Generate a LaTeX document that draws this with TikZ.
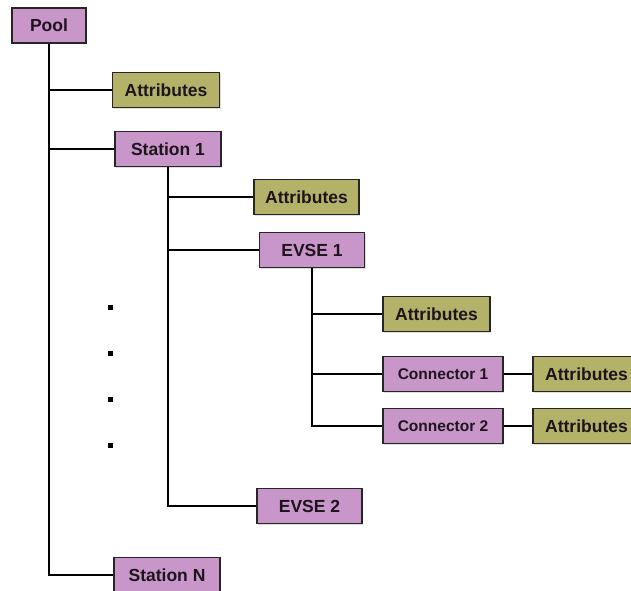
\documentclass[tikz,border=0pt]{standalone}
\usepackage{fontspec}
\setmainfont{Liberation Sans}
\usetikzlibrary{positioning,shadows}
\definecolor{BoxPurple}{RGB}{200,150,200}
\definecolor{BoxOlive}{RGB}{180,178,104}
\definecolor{TextDark}{RGB}{30,20,30}
\begin{document}
\begin{tikzpicture}[x=1pt, y=-1pt,
	node/.style={draw=black!85, line width=1.1pt, minimum height=35pt, inner sep=0pt,
		font=\fontsize{17.5}{20}\selectfont\bfseries, text=TextDark,
		drop shadow={shadow xshift=1.2pt, shadow yshift=-1.2pt, opacity=0.25}},
	itembox/.style={node, fill=BoxPurple, minimum width=106pt},
	attrbox/.style={node, fill=BoxOlive, minimum width=107pt},
	conbox/.style={itembox, minimum width=120pt, font=\fontsize{15.5}{18}\selectfont\bfseries},
	link/.style={line width=2pt, black}]
		\useasboundingbox (0,0) rectangle (631,590);
		\clip (0,0) rectangle (631,590);
		% tree nodes
		\node[itembox, minimum width=74pt] (pool) at (49,25.5) {Pool};
		\node[attrbox] (attrA) at (166,90) {Attributes};
		\node[itembox] (stationA) at (168,149) {Station 1};
		\node[attrbox, minimum width=105pt] (attrB) at (306.5,197) {Attributes};
		\node[itembox, minimum width=105pt] (evseA) at (312,250) {EVSE 1};
		\node[attrbox] (attrC) at (436.5,314) {Attributes};
		\node[conbox] (connA) at (443,374) {Connector 1};
		\node[attrbox] (attrD) at (586.5,374) {Attributes};
		\node[conbox] (connB) at (443,426) {Connector 2};
		\node[attrbox] (attrE) at (586.5,426) {Attributes};
		\node[itembox, minimum width=105pt] (evseB) at (309.5,506) {EVSE 2};
		\node[itembox] (stationN) at (167,575) {Station N};
		% links
		\draw[link] (pool.south) |- (attrA.west);
		\draw[link] (pool.south) |- (stationA.west);
		\draw[link] (pool.south) |- (stationN.west);
		\draw[link] (stationA.south) |- (attrB.west);
		\draw[link] (stationA.south) |- (evseA.west);
		\draw[link] (stationA.south) |- (evseB.west);
		\draw[link] (evseA.south) |- (attrC.west);
		\draw[link] (evseA.south) |- (connA.west);
		\draw[link] (evseA.south) |- (connB.west);
		\draw[link] (connA) -- (attrD);
		\draw[link] (connB) -- (attrE);
		% dots
		\foreach \y in {307,353,399,445}
		\fill[black] (107.5,\y-2.5) rectangle (112.5,\y+2.5);
	\end{tikzpicture}
\end{document}
